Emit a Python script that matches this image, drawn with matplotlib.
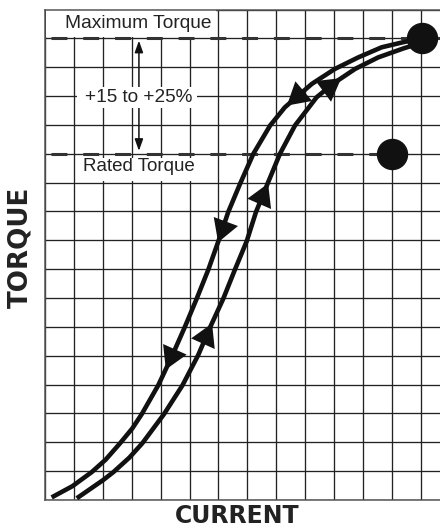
import matplotlib.pyplot as plt
from matplotlib.patches import Rectangle

# grid units (one grid square = 1)
decreasing_x = [0.23, 0.95, 1.62, 2.10, 2.60, 3.02, 3.35, 3.92, 4.40, 4.84, 5.25, 5.65, 6.00,
                6.34, 6.75, 7.21, 7.79, 8.30, 9.23, 10.03, 10.84, 11.65, 12.45, 13.03]
decreasing_y = [0.09, 0.48, 0.97, 1.40, 1.97, 2.48, 2.98, 3.98, 5.00, 6.00, 6.98, 7.98, 8.97,
                9.98, 10.96, 12.00, 12.98, 13.61, 14.42, 14.94, 15.34, 15.69, 15.88, 15.98]

increasing_x = [1.10, 2.01, 2.37, 2.92, 3.37, 4.12, 4.76, 5.30, 5.72, 6.17, 6.57, 6.98, 7.30,
                7.70, 8.13, 8.65, 9.40, 10.00, 10.73, 11.53, 12.40, 13.03]
increasing_y = [0.06, 0.69, 0.97, 1.47, 1.97, 2.98, 3.98, 5.02, 6.00, 6.98, 7.98, 8.97, 9.98,
                10.96, 12.00, 12.98, 13.96, 14.45, 14.94, 15.34, 15.65, 15.85]

# arrow heads on the curves: (tail, tip)
down_arrows = [((8.93, 14.15), (8.37, 13.67)),
               ((6.22, 9.55), (5.99, 8.93)),
               ((4.48, 5.19), (4.18, 4.52))]
up_arrows = [((9.75, 14.25), (10.25, 14.62)),
             ((7.42, 10.28), (7.72, 10.97)),
             ((5.52, 5.54), (5.78, 6.12))]

max_torque = 16
rated_torque = 12
max_point = (13.03, 16)
rated_point = (12.0, 12)

fig = plt.figure(figsize=(4.4, 5.29), dpi=100)
ax = fig.add_axes([45/440, 29/529, 395/440, 490.5/529])
ax.set_xlim(0, 395/28.9)
ax.set_ylim(0, 17)
ax.set_xticks(range(0, 14))
ax.set_yticks(range(0, 18))
ax.tick_params(length=0, labelbottom=False, labelleft=False)
ax.set_axisbelow(True)
ax.grid(True, color='#222222', lw=0.95)
for s in ['left', 'bottom', 'top']:
    ax.spines[s].set_color('#555555')
    ax.spines[s].set_linewidth(1.1)
ax.spines['right'].set_visible(False)

# white boxes behind labels
ax.add_patch(Rectangle((0.03, 16.03), 5.87, 0.95, facecolor='white', edgecolor='none', zorder=1))
ax.add_patch(Rectangle((1.11, 13.6), 4.15, 0.73, facecolor='white', edgecolor='none', zorder=1))
ax.add_patch(Rectangle((1.21, 11.07), 4.08, 0.8, facecolor='white', edgecolor='none', zorder=1))

ax.text(3.22, 16.5, 'Maximum Torque', ha='center', va='center', fontsize=13.8,
        family='Liberation Sans', color='#222222', zorder=2)
ax.text(3.25, 13.96, '+15 to +25%', ha='center', va='center', fontsize=13.7,
        family='Liberation Sans', color='#222222', zorder=2)
ax.text(3.25, 11.55, 'Rated Torque', ha='center', va='center', fontsize=13.5,
        family='Liberation Sans', color='#222222', zorder=2)

ax.annotate('', xy=(3.25, 15.92), xytext=(3.25, 12.1),
            arrowprops=dict(arrowstyle='<|-|>,head_length=0.7,head_width=0.25', lw=1.1,
                            color='#111111', shrinkA=0, shrinkB=0), zorder=0.8)

ax.plot([0.2, 13.67], [max_torque, max_torque], color='#333333', lw=2.2,
        linestyle=(0, (5.2, 5.2)), zorder=4)
ax.plot([0.2, 11.5], [rated_torque, rated_torque], color='#333333', lw=2.2,
        linestyle=(0, (5.2, 5.2)), zorder=4)

ax.plot(decreasing_x, decreasing_y, color='#111111', lw=3.3, solid_capstyle='butt',
        solid_joinstyle='round', zorder=5)
ax.plot(increasing_x, increasing_y, color='#111111', lw=3.3, solid_capstyle='butt',
        solid_joinstyle='round', zorder=5)

for tail, tip in down_arrows + up_arrows:
    ax.annotate('', xy=tip, xytext=tail,
                arrowprops=dict(arrowstyle='-|>,head_length=16,head_width=9.3', mutation_scale=1,
                                lw=0, color='#111111', shrinkA=0, shrinkB=0), zorder=6)

ax.plot(*max_point, 'o', color='#111111', markersize=21.6, clip_on=False, zorder=7)
ax.plot(*rated_point, 'o', color='#111111', markersize=21.6, clip_on=False, zorder=7)

fig.text(20/440, 1 - 247/529, 'TORQUE', rotation=90, ha='center', va='center',
         fontsize=18.8, fontweight='bold', color='#222222')
fig.text(237/440, 1 - 516/529, 'CURRENT', ha='center', va='center',
         fontsize=17, fontweight='bold', color='#222222')

fig.savefig('out.png', dpi=100)
